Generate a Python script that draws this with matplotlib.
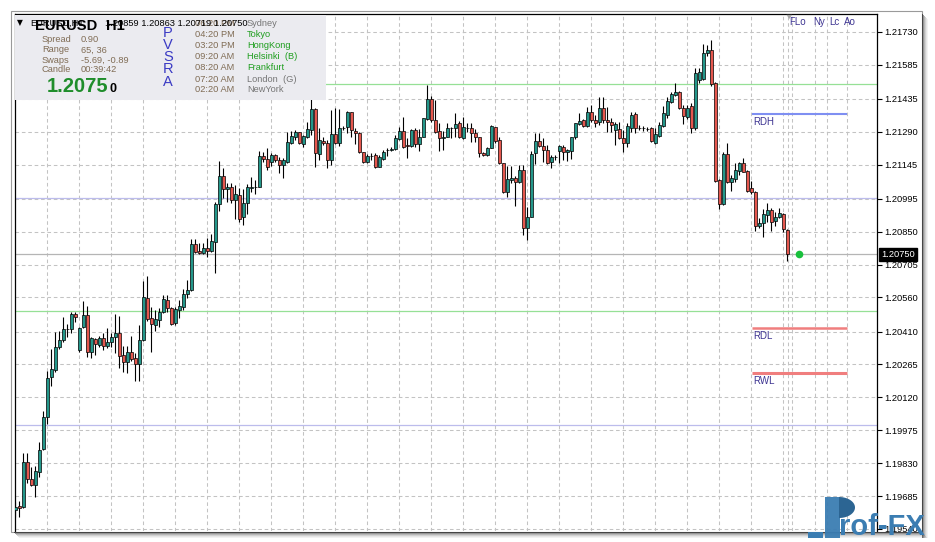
import matplotlib
matplotlib.use("Agg")
import matplotlib.pyplot as plt
from matplotlib.patches import Rectangle, Polygon
from matplotlib.collections import LineCollection
import numpy as np

plt.rcParams['font.family'] = ['Liberation Sans', 'DejaVu Sans']
plt.rcParams['lines.scale_dashes'] = False

W, H = 935, 542

symbol = "EURUSD"
timeframe = "H1"

opens = [1.19622, 1.19643, 1.19637, 1.19833, 1.19762, 1.19732, 1.19793, 1.19891, 1.20035, 1.20208,
         1.20241, 1.20340, 1.20371, 1.20420, 1.20420, 1.20486, 1.20327, 1.20428, 1.20482, 1.20321,
         1.20376, 1.20351, 1.20380, 1.20346, 1.20363, 1.20385, 1.20402, 1.20307, 1.20275, 1.20318,
         1.20295, 1.20266, 1.20371, 1.20557, 1.20468, 1.20439, 1.20462, 1.20495, 1.20549, 1.20512,
         1.20446, 1.20507, 1.20520, 1.20574, 1.20593, 1.20794, 1.20765, 1.20755, 1.20777, 1.20766,
         1.20806, 1.20974, 1.21094, 1.21037, 1.21048, 1.20988, 1.21012, 1.20913, 1.20978, 1.21041,
         1.21047, 1.21048, 1.21184, 1.21170, 1.21155, 1.21188, 1.21166, 1.21146, 1.21158, 1.21243,
         1.21266, 1.21288, 1.21238, 1.21266, 1.21296, 1.21389, 1.21192, 1.21250, 1.21240, 1.21168,
         1.21280, 1.21240, 1.21306, 1.21311, 1.21376, 1.21295, 1.21287, 1.21201, 1.21158, 1.21185,
         1.21186, 1.21136, 1.21172, 1.21209, 1.21210, 1.21213, 1.21260, 1.21294, 1.21230, 1.21228,
         1.21298, 1.21236, 1.21269, 1.21347, 1.21435, 1.21342, 1.21294, 1.21262, 1.21269, 1.21306,
         1.21306, 1.21328, 1.21262, 1.21308, 1.21306, 1.21284, 1.21266, 1.21196, 1.21188, 1.21220,
         1.21310, 1.21254, 1.21151, 1.21026, 1.21078, 1.21085, 1.21068, 1.21122, 1.20868, 1.20916,
         1.21196, 1.21250, 1.21229, 1.21210, 1.21156, 1.21180, 1.21207, 1.21225, 1.21202, 1.21207,
         1.21266, 1.21323, 1.21342, 1.21317, 1.21376, 1.21342, 1.21333, 1.21394, 1.21342, 1.21332,
         1.21298, 1.21301, 1.21262, 1.21240, 1.21308, 1.21367, 1.21308, 1.21306, 1.21303, 1.21306,
         1.21240, 1.21273, 1.21317, 1.21364, 1.21423, 1.21452, 1.21464, 1.21396, 1.21357, 1.21405,
         1.21306, 1.21518, 1.21523, 1.21636, 1.21651, 1.21504, 1.21078, 1.20971, 1.21192, 1.21068,
         1.21082, 1.21118, 1.21151, 1.21118, 1.21044, 1.21024, 1.20876, 1.20887, 1.20924, 1.20946,
         1.20897, 1.20916, 1.20927, 1.20859]

highs = [1.19659, 1.19663, 1.19873, 1.19875, 1.19813, 1.19818, 1.19923, 1.20058, 1.20236, 1.20331,
         1.20408, 1.20412, 1.20474, 1.20443, 1.20496, 1.20498, 1.20430, 1.20545, 1.20524, 1.20385,
         1.20380, 1.20390, 1.20402, 1.20424, 1.20404, 1.20486, 1.20479, 1.20346, 1.20346, 1.20390,
         1.20317, 1.20439, 1.20633, 1.20655, 1.20517, 1.20505, 1.20512, 1.20571, 1.20571, 1.20517,
         1.20520, 1.20549, 1.20596, 1.20637, 1.20817, 1.20817, 1.20799, 1.20802, 1.20821, 1.20840,
         1.20982, 1.21162, 1.21129, 1.21065, 1.21063, 1.21056, 1.21043, 1.21038, 1.21058, 1.21090,
         1.21078, 1.21207, 1.21202, 1.21218, 1.21196, 1.21192, 1.21179, 1.21175, 1.21291, 1.21294,
         1.21298, 1.21291, 1.21276, 1.21335, 1.21438, 1.21393, 1.21307, 1.21267, 1.21254, 1.21386,
         1.21394, 1.21389, 1.21316, 1.21384, 1.21379, 1.21306, 1.21291, 1.21202, 1.21192, 1.21196,
         1.21197, 1.21188, 1.21210, 1.21219, 1.21225, 1.21276, 1.21311, 1.21355, 1.21262, 1.21301,
         1.21306, 1.21301, 1.21352, 1.21497, 1.21448, 1.21430, 1.21328, 1.21295, 1.21330, 1.21313,
         1.21372, 1.21339, 1.21357, 1.21330, 1.21328, 1.21301, 1.21269, 1.21202, 1.21225, 1.21318,
         1.21313, 1.21266, 1.21153, 1.21140, 1.21140, 1.21096, 1.21144, 1.21144, 1.20960, 1.21206,
         1.21284, 1.21284, 1.21262, 1.21232, 1.21188, 1.21188, 1.21232, 1.21232, 1.21213, 1.21269,
         1.21330, 1.21374, 1.21345, 1.21401, 1.21408, 1.21364, 1.21445, 1.21445, 1.21401, 1.21350,
         1.21332, 1.21332, 1.21298, 1.21328, 1.21376, 1.21376, 1.21320, 1.21316, 1.21311, 1.21313,
         1.21306, 1.21332, 1.21405, 1.21445, 1.21467, 1.21504, 1.21470, 1.21408, 1.21408, 1.21416,
         1.21570, 1.21570, 1.21676, 1.21673, 1.21695, 1.21508, 1.21082, 1.21202, 1.21240, 1.21100,
         1.21151, 1.21158, 1.21176, 1.21122, 1.21073, 1.21029, 1.20909, 1.20950, 1.20975, 1.20956,
         1.20938, 1.20953, 1.20931, 1.20863]

lows = [1.19593, 1.19593, 1.19633, 1.19743, 1.19730, 1.19683, 1.19771, 1.19890, 1.20003, 1.20170,
        1.20232, 1.20333, 1.20365, 1.20387, 1.20404, 1.20454, 1.20321, 1.20424, 1.20299, 1.20292,
        1.20307, 1.20343, 1.20329, 1.20339, 1.20342, 1.20316, 1.20248, 1.20233, 1.20226, 1.20280,
        1.20192, 1.20192, 1.20368, 1.20458, 1.20321, 1.20412, 1.20431, 1.20490, 1.20495, 1.20439,
        1.20439, 1.20470, 1.20505, 1.20557, 1.20590, 1.20755, 1.20752, 1.20752, 1.20740, 1.20762,
        1.20669, 1.20943, 1.20998, 1.20981, 1.20975, 1.20906, 1.20894, 1.20880, 1.20928, 1.21025,
        1.21016, 1.21047, 1.21158, 1.21122, 1.21140, 1.21158, 1.21109, 1.21085, 1.21153, 1.21236,
        1.21254, 1.21236, 1.21223, 1.21262, 1.21276, 1.21137, 1.21166, 1.21232, 1.21129, 1.21144,
        1.21236, 1.21228, 1.21298, 1.21285, 1.21267, 1.21236, 1.21197, 1.21151, 1.21153, 1.21166,
        1.21132, 1.21134, 1.21166, 1.21184, 1.21207, 1.21210, 1.21254, 1.21218, 1.21173, 1.21225,
        1.21225, 1.21207, 1.21266, 1.21342, 1.21335, 1.21284, 1.21207, 1.21210, 1.21266, 1.21262,
        1.21266, 1.21262, 1.21257, 1.21288, 1.21244, 1.21247, 1.21180, 1.21184, 1.21184, 1.21218,
        1.21240, 1.21148, 1.21019, 1.21002, 1.21063, 1.20965, 1.21063, 1.20836, 1.20814, 1.20914,
        1.21148, 1.21225, 1.21156, 1.21148, 1.21129, 1.21166, 1.21151, 1.21166, 1.21163, 1.21170,
        1.21257, 1.21320, 1.21313, 1.21310, 1.21335, 1.21313, 1.21320, 1.21328, 1.21291, 1.21291,
        1.21232, 1.21258, 1.21202, 1.21225, 1.21291, 1.21284, 1.21298, 1.21294, 1.21294, 1.21244,
        1.21235, 1.21269, 1.21313, 1.21350, 1.21416, 1.21449, 1.21391, 1.21323, 1.21347, 1.21284,
        1.21298, 1.21504, 1.21518, 1.21626, 1.21493, 1.21070, 1.20950, 1.20968, 1.21063, 1.21029,
        1.21068, 1.21100, 1.21112, 1.21024, 1.21015, 1.20853, 1.20868, 1.20828, 1.20894, 1.20853,
        1.20876, 1.20909, 1.20847, 1.20719]

closes = [1.19637, 1.19631, 1.19837, 1.19760, 1.19732, 1.19796, 1.19890, 1.20032, 1.20204, 1.20243,
          1.20341, 1.20371, 1.20419, 1.20420, 1.20486, 1.20476, 1.20424, 1.20482, 1.20319, 1.20380,
          1.20354, 1.20383, 1.20346, 1.20363, 1.20385, 1.20402, 1.20302, 1.20277, 1.20319, 1.20291,
          1.20266, 1.20372, 1.20561, 1.20465, 1.20442, 1.20465, 1.20498, 1.20553, 1.20512, 1.20442,
          1.20509, 1.20523, 1.20574, 1.20593, 1.20794, 1.20762, 1.20755, 1.20777, 1.20766, 1.20807,
          1.20974, 1.21094, 1.21037, 1.21048, 1.20988, 1.21015, 1.20907, 1.20975, 1.21046, 1.21049,
          1.21047, 1.21184, 1.21169, 1.21134, 1.21188, 1.21164, 1.21144, 1.21164, 1.21247, 1.21272,
          1.21289, 1.21241, 1.21270, 1.21301, 1.21389, 1.21197, 1.21254, 1.21240, 1.21168, 1.21280,
          1.21240, 1.21306, 1.21305, 1.21378, 1.21296, 1.21285, 1.21201, 1.21158, 1.21184, 1.21185,
          1.21136, 1.21177, 1.21202, 1.21210, 1.21214, 1.21262, 1.21294, 1.21225, 1.21226, 1.21298,
          1.21236, 1.21269, 1.21350, 1.21435, 1.21342, 1.21291, 1.21262, 1.21269, 1.21306, 1.21305,
          1.21323, 1.21266, 1.21313, 1.21309, 1.21284, 1.21266, 1.21196, 1.21188, 1.21220, 1.21316,
          1.21250, 1.21151, 1.21026, 1.21082, 1.21085, 1.21068, 1.21122, 1.20865, 1.20916, 1.21192,
          1.21250, 1.21229, 1.21210, 1.21151, 1.21180, 1.21181, 1.21228, 1.21200, 1.21210, 1.21266,
          1.21328, 1.21339, 1.21317, 1.21376, 1.21342, 1.21328, 1.21394, 1.21340, 1.21332, 1.21320,
          1.21323, 1.21262, 1.21240, 1.21317, 1.21364, 1.21306, 1.21307, 1.21305, 1.21302, 1.21250,
          1.21280, 1.21320, 1.21372, 1.21426, 1.21456, 1.21464, 1.21394, 1.21361, 1.21396, 1.21306,
          1.21548, 1.21555, 1.21636, 1.21651, 1.21500, 1.21073, 1.20971, 1.21192, 1.21068, 1.21088,
          1.21122, 1.21151, 1.21114, 1.21029, 1.21024, 1.20876, 1.20887, 1.20927, 1.20946, 1.20894,
          1.20916, 1.20931, 1.20862, 1.20750]

price_ticks = [1.21730, 1.21585, 1.21435, 1.21290, 1.21145, 1.20995, 1.20850, 1.20705,
               1.20560, 1.20410, 1.20265, 1.20120, 1.19975, 1.19830, 1.19685, 1.19540]
y_lo, y_hi = 1.19531, 1.21808
x_lo, x_hi = -0.2, 215.3
grid_bars = list(range(8, 209, 8))
session_lines = [193.1, 194.1, 203.0]
session_names = ["FLo", "Ny", "Lc", "Ao"]
session_name_pos = [193.4, 199.4, 203.4, 207.2]
green_levels = [1.21500, 1.20500]
blue_levels = [1.21000, 1.20000]
bid_price = 1.20750
level_names = ["RDH", "RDL", "RWL"]
level_values = [1.21370, 1.20427, 1.20226]
level_colors = ["#7f8ff2", "#f07e7e", "#f07e7e"]
level_widths = [1.5, 1.8, 2.2]
level_x0, level_x1 = 184.1, 208.0
marker_bar = 196

info_labels = ["Spread", "Range", "Swaps", "Candle"]
info_values = ["0.90", "65, 36", "-5.69, -0.89", "00:39:42"]
big_price = "1.2075"
big_digit = "0"
pvsra = ["P", "V", "S", "R", "A"]
session_times = ["06:20 PM", "04:20 PM", "03:20 PM", "09:20 AM", "08:20 AM", "07:20 AM", "02:20 AM"]
session_cities = ["Sydney", "Tokyo", "HongKong", "Helsinki  (B)", "Frankfurt", "London  (G)", "NewYork"]
city_open = [False, True, True, True, True, False, False]

TEAL = "#24978a"
RED = "#e5574e"
GRID = "#c3c3c3"
BROWN = "#806c55"


def fx(x):
    return x / W


def fy(y):
    return 1 - y / H


fig = plt.figure(figsize=(W / 100, H / 100), dpi=100)
fig.patch.set_facecolor("white")
ax = fig.add_axes([14.5 / W, (H - 531) / H, 862 / W, (531 - 14.3) / H])
ax.set_xlim(x_lo, x_hi)
ax.set_ylim(y_lo, y_hi)
ax.set_facecolor("white")

for s in ["left", "top", "right"]:
    ax.spines[s].set_color("black")
    ax.spines[s].set_linewidth(0.9)
ax.spines["bottom"].set_visible(False)
ax.set_xticks([])
ax.yaxis.tick_right()
ax.set_yticks(price_ticks)
ax.set_yticklabels([f"{v:.5f}" for v in price_ticks])
ax.tick_params(axis="y", length=3.5, width=0.8, pad=2.2, labelsize=6.7, colors="black")

dash = (0, (2.6, 2.0))
for v in price_ticks:
    ax.axhline(v, color=GRID, lw=0.75, ls=dash, zorder=1)
for b in grid_bars:
    ax.axvline(b, color=GRID, lw=0.75, ls=dash, zorder=1)
for b in session_lines:
    ax.axvline(b, color=GRID, lw=0.75, ls=dash, zorder=1)

for v in green_levels:
    ax.axhline(v, color="#96e096", lw=0.9, zorder=2)
for v in blue_levels:
    ax.axhline(v, color="#bcbcec", lw=0.9, zorder=2)
ax.axhline(bid_price, color="#b5b5b5", lw=0.9, zorder=2)

for name, val, col, lw in zip(level_names, level_values, level_colors, level_widths):
    ax.hlines(val, level_x0, level_x1, color=col, lw=lw, zorder=2)
    ax.annotate(name, xy=(level_x0, val), xytext=(2, -3), textcoords="offset pixels",
                ha="left", va="top", fontsize=7, color="#3e3592", zorder=6)

o = np.array(opens)
h = np.array(highs)
l = np.array(lows)
c = np.array(closes)
idx = np.arange(len(o))
segs = [[(i, lo), (i, hi)] for i, lo, hi in zip(idx, l, h)]
ax.add_collection(LineCollection(segs, colors="black", linewidths=0.8, zorder=3))
body_lo = np.minimum(o, c)
body_h = np.abs(c - o)
cols = [TEAL if cc >= oo else RED for oo, cc in zip(o, c)]
ax.bar(idx, body_h, bottom=body_lo, width=0.62, color=cols, edgecolor="black",
       linewidth=0.5, zorder=4)

ax.plot([marker_bar], [bid_price], "o", color="#19c03c", ms=5.5, mec="none", zorder=5)

ax.annotate(f"{bid_price:.5f}", xy=(1, bid_price), xycoords=("axes fraction", "data"),
            xytext=(4.5, 0), textcoords="offset pixels", ha="left", va="center",
            color="white", fontsize=6.7,
            bbox=dict(boxstyle="square,pad=0.2", fc="black", ec="black"),
            annotation_clip=False, zorder=10)

xt = ax.get_xaxis_transform()
for name, pos in zip(session_names, session_name_pos):
    ax.text(pos, 0.986, name, transform=xt, ha="left", va="center", fontsize=7,
            color="#3e3592", zorder=6)
ax.add_patch(Polygon([(192.8, 0.999), (194.2, 0.999), (193.5, 0.991)], closed=True,
                     transform=xt, fc="#a8a8a8", ec="none", zorder=6, clip_on=False))

# info panel
fig.patches.append(Rectangle((fx(15.2), fy(99.5)), (326 - 15.2) / W, (99.5 - 15) / H,
                             transform=fig.transFigure, fc="#ebebf0", ec="none", zorder=2))
fig.text(fx(17), fy(23), "\u25bc", fontsize=5.5, va="center", ha="left", zorder=6,
         family=["DejaVu Sans"])
fig.text(fx(30), fy(23), f"{symbol},{timeframe}", fontsize=6.7, va="center", zorder=6)
fig.text(fx(105), fy(23), f"{opens[-1]:.5f} {highs[-1]:.5f} {lows[-1]:.5f} {closes[-1]:.5f}",
         fontsize=6.7, va="center", zorder=6)
fig.text(fx(35), fy(26.5), symbol, fontsize=10.6, weight="bold", va="center", zorder=7)
fig.text(fx(106), fy(26.5), timeframe, fontsize=10.6, weight="bold", va="center", zorder=7)

for i, (lab, val) in enumerate(zip(info_labels, info_values)):
    yy = 40 + 10 * i
    fig.text(fx(42), fy(yy), lab, fontsize=6.7, color=BROWN, va="center", zorder=6)
    fig.text(fx(81), fy(yy), val, fontsize=6.7, color=BROWN, va="center", zorder=6)

fig.text(fx(47), fy(86.5), big_price, fontsize=14.5, weight="bold", color="#1f8d2b",
         va="center", zorder=6)
fig.text(fx(110), fy(88.5), big_digit, fontsize=9, weight="bold", color="black",
         va="center", zorder=6)

for i, ch in enumerate(pvsra):
    fig.text(fx(168), fy(32.7 + 12.2 * i), ch, fontsize=10.5, color="#3a3ac4",
             ha="center", va="center", zorder=6)

row_y = [24, 34.7, 45.7, 56.7, 67.7, 79, 90]
for t, city, op, yy in zip(session_times, session_cities, city_open, row_y):
    fig.text(fx(195), fy(yy), t, fontsize=6.7, color=BROWN, va="center", zorder=5)
    fig.text(fx(247), fy(yy), city, fontsize=6.7, color="#1f9e1f" if op else "#767676",
             va="center", zorder=5)

# window frame and shadow
fig.patches.append(Rectangle((fx(11), fy(531.5)), (921.7 - 11) / W, (531.5 - 11.3) / H,
                             transform=fig.transFigure, fill=False, ec="#9a9a9a", lw=0.8,
                             zorder=8))
for i, a in enumerate([0.55, 0.4, 0.28, 0.18, 0.1, 0.05]):
    fig.patches.append(Rectangle((fx(922.2 + i), fy(538)), 1 / W, (538 - 14 - i) / H,
                                 transform=fig.transFigure, fc="black", alpha=a, ec="none",
                                 zorder=8))
    fig.patches.append(Rectangle((fx(14 + i), fy(532.2 + i + 1)), (922 - 14) / W, 1 / H,
                                 transform=fig.transFigure, fc="black", alpha=a, ec="none",
                                 zorder=8))

# Prof-FX logo
LOGO = "#3b7db2"
fig.patches.append(Rectangle((fx(825), fy(538)), 15 / W, 41 / H, transform=fig.transFigure,
                             fc=LOGO, ec="none", alpha=0.95, zorder=9))
th = np.linspace(-np.pi / 2, np.pi / 2, 40)
bowl = [(fx(839 + 16 * np.cos(t)), fy(507.5 - 10.5 * np.sin(t))) for t in th]
fig.patches.append(Polygon(bowl, closed=True, transform=fig.transFigure, fc="#2c6593",
                           ec="none", zorder=9))
fig.patches.append(Rectangle((fx(808), fy(537.5)), 15 / W, 6 / H, transform=fig.transFigure,
                             fc=LOGO, ec="none", zorder=9))
fig.text(fx(839), fy(527), "rof-FX", fontsize=21, weight="bold", color=LOGO, va="center",
         ha="left", zorder=9)

fig.savefig("out.png", dpi=100, facecolor="white")
